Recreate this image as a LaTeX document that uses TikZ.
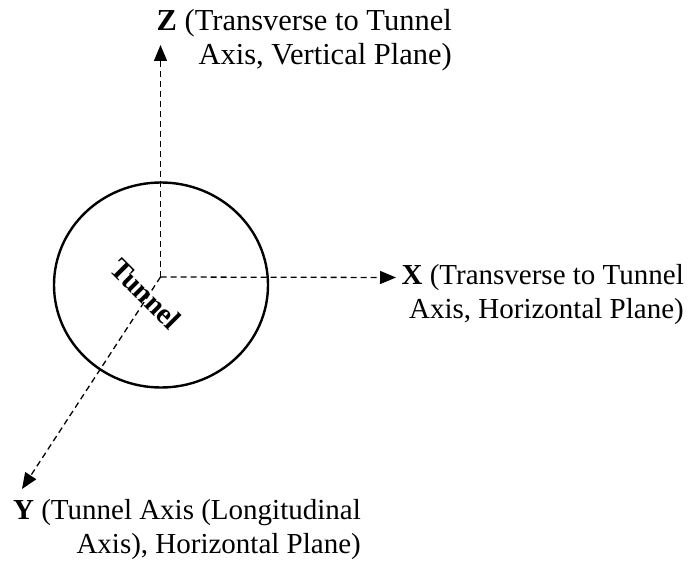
\documentclass[tikz,border=0pt]{standalone}
\usepackage{fontspec}
\setmainfont{Liberation Serif}
\usetikzlibrary{arrows.meta,shapes.geometric}
\begin{document}
\begin{tikzpicture}[x=1pt,y=-1pt,
  axisline/.style={line width=1.3pt, dash pattern=on 6pt off 4pt, -{Triangle[length=16pt,width=13pt]}},
  ring/.style={draw, ellipse, line width=2.4pt, minimum width=214pt, minimum height=205pt, inner sep=0pt},
  axislabel/.style={font=\fontsize{29}{34}\selectfont, align=right, inner sep=0pt}]
\useasboundingbox (0,0) rectangle (692,564);
\node[ring] (tunnel) at (161,285) {};
\coordinate (O) at (160.5,277);
\coordinate (Ztip) at (160.5,45);
\coordinate (Xtip) at (396,277.5);
\coordinate (Ytip) at (22,489);
\draw[axisline] (O) -- (Ztip);
\draw[axisline] (O) -- (Xtip);
\draw[axisline] (O) -- (Ytip);
\node[font=\fontsize{29}{32}\selectfont\bfseries, rotate=-45, inner sep=0pt] (tlabel) at (146,294) {Tunnel};
\node[axislabel, font=\fontsize{30.5}{34}\selectfont, anchor=base east] (zlabel) at (452,65) {\textbf{Z} (Transverse to Tunnel\\Axis, Vertical Plane)};
\node[axislabel, anchor=base east] (xlabel) at (684,318) {\textbf{X} (Transverse to Tunnel\\Axis, Horizontal Plane)};
\node[axislabel, anchor=base east] (ylabel) at (361,553) {\textbf{Y} (Tunnel Axis (Longitudinal\\Axis), Horizontal Plane)};
\end{tikzpicture}
\end{document}
